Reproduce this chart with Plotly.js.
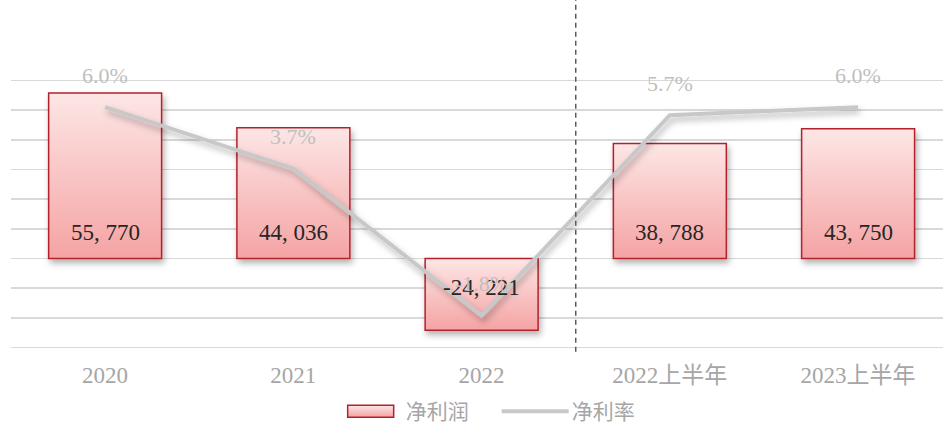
<!DOCTYPE html>
<html><head><meta charset="utf-8">
<script src="https://cdn.plot.ly/plotly-3.0.1.min.js"></script>
<style>body{margin:0;background:#fff}</style>
</head><body>
<div id="chart" style="width:943px;height:432px"></div>
<script>
const categories = ['2020', '2021', '2022', '2022上半年', '2023上半年'];
const netProfit = [55770, 44036, -24221, 38788, 43750];
const netMargin = [6.0, 3.7, -1.8, 5.7, 6.0];
const seriesNames = ['净利润', '净利率'];
const dividerAfter = 2.5;

const xRange = [-0.5, 4.451];
const serif = '"Liberation Serif", "Noto Sans CJK SC", serif';
const cjk = '"Noto Sans CJK SC", "Liberation Serif", sans-serif';

function fmtNum(v) {
  const s = Math.abs(v).toLocaleString('en-US').replace(/,/g, ', ');
  return (v < 0 ? '-' : '') + s;
}

const barTrace = {
  type: 'bar', name: seriesNames[0], x: categories, y: netProfit,
  width: 0.6,
  marker: {color: '#f9c6c6', line: {color: '#b3222c', width: 1.5}},
  hoverinfo: 'skip'
};
const lineTrace = {
  type: 'scatter', mode: 'lines', name: seriesNames[1], x: categories, y: netMargin,
  yaxis: 'y2', line: {color: '#c8c8c8', width: 4},
  hoverinfo: 'skip'
};

const annotations = [];
categories.forEach((c, i) => {
  const v = netProfit[i];
  annotations.push({
    x: i, y: v >= 0 ? 0 : v / 2, xref: 'x', yref: 'y',
    text: fmtNum(v), showarrow: false, yanchor: 'middle',
    yshift: v >= 0 ? 26 : 7,
    font: {family: serif, size: 23, color: '#262626'}
  });
  annotations.push({
    x: i, y: netMargin[i], xref: 'x', yref: 'y2',
    text: netMargin[i].toFixed(1) + '%', showarrow: false, yanchor: 'middle',
    yshift: 32,
    font: {family: serif, size: 22, color: '#bfbfbf'}
  });
});

const divX = (dividerAfter - xRange[0]) / (xRange[1] - xRange[0]);

const layout = {
  width: 943, height: 432,
  margin: {l: 11, r: 0, t: 79, b: 83},
  paper_bgcolor: '#fff', plot_bgcolor: '#fff',
  showlegend: true,
  legend: {
    orientation: 'h', xref: 'container', yref: 'container',
    x: 0.532, xanchor: 'center', y: 0.0, yanchor: 'bottom',
    font: {family: cjk, size: 21, color: '#a6a6a6'},
    itemwidth: 60, entrywidth: 91, traceorder: 'normal'
  },
  xaxis: {
    type: 'category', range: xRange, showgrid: false, zeroline: false,
    showline: false, ticks: '', ticklabelstandoff: 10,
    tickfont: {family: serif, size: 23, color: '#a6a6a6'}
  },
  yaxis: {
    range: [-30500, 60500], dtick: 10000, tick0: 0, showticklabels: false,
    gridcolor: '#d9d9d9', gridwidth: 1.5, zeroline: false, showline: false, ticks: ''
  },
  yaxis2: {
    range: [-3.0556, 7.0556], overlaying: 'y', side: 'right', showgrid: false,
    zeroline: false, showticklabels: false, showline: false, ticks: ''
  },
  shapes: [{
    type: 'line', xref: 'paper', yref: 'paper',
    x0: divX, x1: divX, y0: -0.01, y1: 1.32,
    line: {color: '#595959', width: 1.5, dash: '5px,4px'}
  }],
  annotations: annotations
};

Plotly.newPlot('chart', [barTrace, lineTrace], layout, {staticPlot: true, displayModeBar: false}).then(gd => {
  const svg = gd.querySelector('svg.main-svg');
  const ns = 'http://www.w3.org/2000/svg';
  let defs = svg.querySelector('defs');
  if (!defs) { defs = document.createElementNS(ns, 'defs'); svg.insertBefore(defs, svg.firstChild); }
  defs.insertAdjacentHTML('beforeend',
    '<linearGradient id="barGrad" x1="0" y1="0" x2="0" y2="1">' +
    '<stop offset="0" stop-color="#fde6e6"/><stop offset="1" stop-color="#f5a3a3"/></linearGradient>' +
    '<filter id="shadow" x="-20%" y="-20%" width="150%" height="150%">' +
    '<feDropShadow dx="2" dy="4" stdDeviation="3" flood-color="#000" flood-opacity="0.3"/></filter>');
  gd.querySelectorAll('.barlayer .point path').forEach(p => {
    p.style.fill = 'url(#barGrad)';
    p.setAttribute('filter', 'url(#shadow)');
  });
  gd.querySelectorAll('.scatterlayer .js-line').forEach(p => {
    p.setAttribute('filter', 'url(#shadow)');
  });
  // widen legend swatches to match the reference look
  gd.querySelectorAll('.legend .traces').forEach(tr => {
    const txt = tr.querySelector('text.legendtext');
    const tx = txt ? parseFloat(txt.getAttribute('x')) : 70;
    tr.querySelectorAll('.legendpoints path').forEach(p => {
      if (p.style.fill && p.style.fill.indexOf('249') >= 0) {
        p.style.fill = 'url(#barGrad)';
        p.setAttribute('transform', 'translate(' + (tx - 12 - 23) + ',0)');
        p.setAttribute('d', 'M23,6H-23V-6H23Z');
      }
    });
    tr.querySelectorAll('.legendlines path').forEach(p => {
      p.setAttribute('d', 'M' + (tx - 70) + ',0h67');
    });
  });
});
</script>
</body></html>
